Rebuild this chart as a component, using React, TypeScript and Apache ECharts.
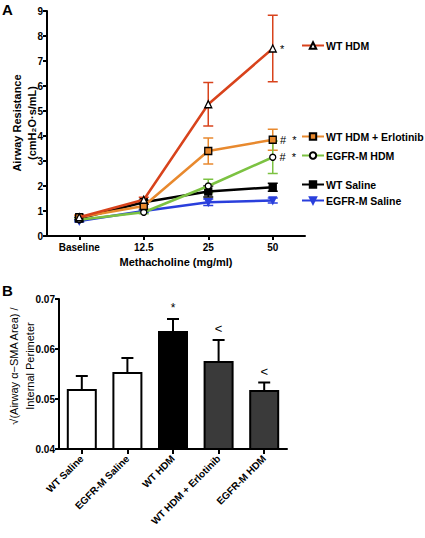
import React, { useEffect, useRef } from "react";
import * as echarts from "echarts";

const doses = ["Baseline", "12.5", "25", "50"];
const seriesNames = ["WT HDM", "WT HDM + Erlotinib", "EGFR-M HDM", "WT Saline", "EGFR-M Saline"];
const wtHdm = [0.75, 1.45, 5.27, 7.5];
const wtHdmErl = [0.75, 1.2, 3.4, 3.85];
const egfrHdm = [0.65, 0.95, 2.0, 3.15];
const wtSaline = [0.7, 1.35, 1.78, 1.95];
const egfrSaline = [0.6, 1.0, 1.35, 1.42];
const wtHdmErr = [0.08, 0.1, 0.87, 1.33];
const wtHdmErlErr = [0.08, 0.12, 0.52, 0.42];
const egfrHdmErr = [0.05, 0.06, 0.27, 0.65];
const wtSalineErr = [0.05, 0.08, 0.22, 0.16];
const egfrSalineErr = [0.04, 0.05, 0.13, 0.1];
const lastPointMarks = ["*", "#  *", "#  *", "", ""];

const groups = ["WT Saline", "EGFR-M Saline", "WT HDM", "WT HDM + Erlotinib", "EGFR-M HDM"];
const smaMean = [0.052, 0.0554, 0.0636, 0.0576, 0.0518];
const smaUpper = [0.0546, 0.0582, 0.066, 0.0618, 0.0533];
const smaMarks = ["", "", "*", "<", "<"];

const yTicksTop = [0, 9, 1];
const yTicksBottom = [0.04, 0.07, 0.01];

const colors = ["#d8431c", "#e8892e", "#7cc242", "#000000", "#2a3fdc"];
const symbols = ["triangle", "rect", "circle", "rect", "triangle"];
const symbolFills = ["#ffffff", "#e8892e", "#ffffff", "#000000", "#2a3fdc"];
const symbolRot = [0, 0, 0, 0, 180];
const legendTops = [40, 131, 150, 179, 195];
const barColors = ["#ffffff", "#ffffff", "#000000", "#3a3a3a", "#3a3a3a"];

const FONT = "Liberation Sans, Arial, sans-serif";

export default function App() {
  const ref = useRef<HTMLDivElement>(null);
  useEffect(() => {
    document.body.style.margin = "0";
    const chart = echarts.init(ref.current!, null, { renderer: "svg" });
    const means = [wtHdm, wtHdmErl, egfrHdm, wtSaline, egfrSaline];
    const errs = [wtHdmErr, wtHdmErlErr, egfrHdmErr, wtSalineErr, egfrSalineErr];

    const lineSeries = seriesNames.map((name, s) => ({
      name,
      type: "line",
      xAxisIndex: 0,
      yAxisIndex: 0,
      z: 5 - s + 3,
      symbol: symbols[s],
      symbolSize: s === 2 ? 6 : 7,
      symbolRotate: symbolRot[s],
      lineStyle: { color: colors[s], width: 2.5 },
      itemStyle: { color: symbolFills[s], borderColor: s === 4 ? colors[s] : "#000", borderWidth: 1.3 },
      data: means[s].map((v, i) =>
        i === means[s].length - 1 && lastPointMarks[s]
          ? {
              value: v,
              label: {
                show: true,
                position: "right",
                distance: 3,
                formatter: lastPointMarks[s],
                color: "#000",
                fontSize: 11,
                fontFamily: FONT,
              },
            }
          : v
      ),
    }));

    const errSeries = seriesNames.map((name, s) => ({
      type: "custom",
      xAxisIndex: 0,
      yAxisIndex: 0,
      z: 2,
      silent: true,
      data: means[s].map((v, i) => [i, v - errs[s][i], v + errs[s][i]]),
      renderItem: (params: any, api: any) => {
        const lo = api.coord([api.value(0), api.value(1)]);
        const hi = api.coord([api.value(0), api.value(2)]);
        const w = 5;
        const st = { stroke: colors[s], lineWidth: 1.5 };
        return {
          type: "group",
          children: [
            { type: "line", shape: { x1: lo[0], y1: lo[1], x2: hi[0], y2: hi[1] }, style: st },
            { type: "line", shape: { x1: lo[0] - w, y1: lo[1], x2: lo[0] + w, y2: lo[1] }, style: st },
            { type: "line", shape: { x1: hi[0] - w, y1: hi[1], x2: hi[0] + w, y2: hi[1] }, style: st },
          ],
        };
      },
    }));

    const barErr = {
      type: "custom",
      xAxisIndex: 1,
      yAxisIndex: 1,
      z: 1,
      silent: true,
      data: smaMean.map((v, i) => [i, v, smaUpper[i]]),
      renderItem: (params: any, api: any) => {
        const lo = api.coord([api.value(0), api.value(1)]);
        const hi = api.coord([api.value(0), api.value(2)]);
        const w = 6;
        const st = { stroke: "#000", lineWidth: 2 };
        const children: any[] = [
          { type: "line", shape: { x1: lo[0], y1: lo[1], x2: hi[0], y2: hi[1] }, style: st },
          { type: "line", shape: { x1: hi[0] - w, y1: hi[1], x2: hi[0] + w, y2: hi[1] }, style: st },
        ];
        const mark = smaMarks[params.dataIndex];
        if (mark) {
          children.push({
            type: "text",
            x: hi[0],
            y: hi[1] - 5,
            style: {
              text: mark,
              align: "center",
              verticalAlign: "bottom",
              fill: "#000",
              fontSize: mark === "<" ? 13 : 12,
              fontFamily: FONT,
            },
          });
        }
        return { type: "group", children };
      },
    };

    const axisLine = { show: true, lineStyle: { color: "#000", width: 2 } };
    const axisTick = { show: true, length: 4, lineStyle: { color: "#000", width: 2 } };
    const boldLabel = { color: "#000", fontWeight: "bold", fontSize: 10, fontFamily: FONT };
    const rot = -Math.PI / 2;
    const rot2 = Math.PI / 2;

    chart.setOption({
      animation: false,
      textStyle: { fontFamily: FONT },
      grid: [
        { left: 47, top: 11, width: 258, height: 225 },
        { left: 59, top: 299, width: 228, height: 150 },
      ],
      xAxis: [
        {
          type: "category",
          gridIndex: 0,
          data: doses,
          boundaryGap: true,
          axisLine,
          axisTick: { ...axisTick, alignWithLabel: true },
          axisLabel: { ...boldLabel, margin: 6 },
          name: "Methacholine (mg/ml)",
          nameLocation: "middle",
          nameGap: 20,
          nameTextStyle: { color: "#000", fontWeight: "bold", fontSize: 11, fontFamily: FONT },
        },
        {
          type: "category",
          gridIndex: 1,
          data: groups,
          boundaryGap: true,
          axisLine,
          axisTick: { ...axisTick, length: 5, alignWithLabel: true },
          axisLabel: { ...boldLabel, rotate: 45, margin: 8, interval: 0 },
        },
      ],
      yAxis: [
        {
          type: "value",
          gridIndex: 0,
          min: yTicksTop[0],
          max: yTicksTop[1],
          interval: yTicksTop[2],
          splitLine: { show: false },
          axisLine,
          axisTick,
          axisLabel: { ...boldLabel, margin: 4 },
        },
        {
          type: "value",
          gridIndex: 1,
          min: yTicksBottom[0],
          max: yTicksBottom[1],
          interval: yTicksBottom[2],
          splitLine: { show: false },
          axisLine,
          axisTick,
          axisLabel: { ...boldLabel, margin: 4, formatter: (v: number) => v.toFixed(2) },
        },
      ],
      legend: seriesNames.map((name, i) => ({
        data: [name],
        left: 301,
        top: legendTops[i],
        itemWidth: 22,
        itemHeight: 8,
        itemGap: 0,
        padding: 0,
        selectedMode: false,
        textStyle: { color: "#000", fontWeight: "bold", fontSize: 10.5, fontFamily: FONT, padding: [0, 0, 0, -3] },
      })),
      series: [
        ...errSeries,
        ...lineSeries,
        {
          type: "bar",
          xAxisIndex: 1,
          yAxisIndex: 1,
          z: 3,
          barWidth: 30,
          data: smaMean.map((v, i) => ({
            value: v,
            itemStyle: { color: barColors[i], borderColor: "#000", borderWidth: 2 },
          })),
        },
        barErr,
      ],
      graphic: [
        { type: "text", x: 2, y: 2, style: { text: "A", fontSize: 15, fontWeight: "bold", fill: "#000", fontFamily: FONT } },
        { type: "text", x: 2, y: 283, style: { text: "B", fontSize: 15, fontWeight: "bold", fill: "#000", fontFamily: FONT } },
        {
          type: "text",
          x: 17,
          y: 123,
          rotation: rot2,
          style: { text: "Airway Resistance", align: "center", verticalAlign: "middle", fontSize: 11, fontWeight: "bold", fill: "#000", fontFamily: FONT },
        },
        {
          type: "text",
          x: 32,
          y: 123,
          rotation: rot2,
          style: { text: "(cmH₂O·s/mL)", align: "center", verticalAlign: "middle", fontSize: 11, fontWeight: "bold", fill: "#000", fontFamily: FONT },
        },
        {
          type: "text",
          x: 14,
          y: 366,
          rotation: rot2,
          style: { text: "√(Airway α−SMA Area) /", align: "center", verticalAlign: "middle", fontSize: 11, fill: "#000", fontFamily: FONT },
        },
        {
          type: "text",
          x: 30,
          y: 366,
          rotation: rot2,
          style: { text: "Internal Perimeter", align: "center", verticalAlign: "middle", fontSize: 11, fill: "#000", fontFamily: FONT },
        },
      ],
    });
    void rot;
    return () => chart.dispose();
  }, []);
  return <div ref={ref} style={{ position: "absolute", left: 0, top: 0, width: 425, height: 538, background: "#fff" }} />;
}
